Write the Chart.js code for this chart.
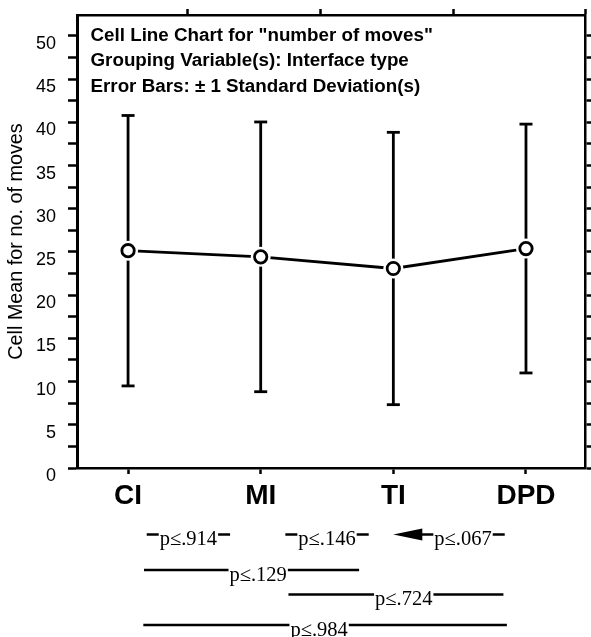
<!DOCTYPE html>
<html>
<head>
<meta charset="utf-8">
<script src="https://cdn.jsdelivr.net/npm/chart.js@4.4.0/dist/chart.umd.min.js"></script>
<style>
  html, body { margin: 0; padding: 0; background: #fff; }
  canvas { display: block; }
</style>
</head>
<body>
<canvas id="c" width="591" height="637"></canvas>
<script>
// ---------- data ----------
const categories = ['CI', 'MI', 'TI', 'DPD'];
const cellMeans = [25.15, 24.44, 23.09, 25.40];
const cellSDs = [15.65, 15.61, 15.76, 14.40];
const yTicks = [0, 2.5, 5, 7.5, 10, 12.5, 15, 17.5, 20, 22.5, 25, 27.5, 30, 32.5, 35, 37.5, 40, 42.5, 45, 47.5, 50];
const yTickLabels = ['0', '', '5', '', '10', '', '15', '', '20', '', '25', '', '30', '', '35', '', '40', '', '45', '', '50'];
const titleLines = [
  'Cell Line Chart for "number of moves"',
  'Grouping Variable(s): Interface type',
  'Error Bars: \u00B1 1 Standard Deviation(s)'
];
const yAxisTitle = 'Cell Mean for no. of moves';
const comparisonPairs = [[0, 1], [1, 2], [2, 3], [0, 2], [1, 3], [0, 3]];
const comparisonLabels = ['p\u2264.914', 'p\u2264.146', 'p\u2264.067', 'p\u2264.129', 'p\u2264.724', 'p\u2264.984'];
const comparisonArrow = [false, false, true, false, false, false];

// ---------- layout (not data) ----------
const X_MIN = -0.385, X_MAX = 3.445, Y_MAX = 52.43;
const topTicks = [0.45, 1.45, 2.45, X_MAX];
const LAYOUT = {
  row: [0, 0, 0, 1, 2, 3],
  rowLineY: [66.5, 102, 126.5, 157],   // px below the plot bottom
  compactShift: [-0.045, 0, 0, 0, 0, 0],
  inset: [[0, 0], [0, 0], [0, 0], [0.12, -0.258], [0.209, -0.17], [0.115, -0.144]],
  textShift: [0, 0, 0, 0.05, 0.059, -0.045]
};
const SANS = '"Liberation Sans", Arial, Helvetica, sans-serif';
const SERIF = '"Liberation Serif", "Times New Roman", Times, serif';

const pts = categories.map((c, i) => ({ x: i, y: cellMeans[i] }));

const datasets = [];
datasets.push({
  data: pts, xAxisID: 'x', yAxisID: 'y',
  borderColor: '#000', borderWidth: 2.8, pointRadius: 0, fill: false, tension: 0, order: 3
});
categories.forEach((c, i) => {
  datasets.push({
    data: [{ x: i, y: cellMeans[i] - cellSDs[i] }, { x: i, y: cellMeans[i] + cellSDs[i] }],
    xAxisID: 'x', yAxisID: 'y',
    borderColor: '#000', borderWidth: 2.8, fill: false,
    pointStyle: 'line', pointRadius: 6.5, pointBorderWidth: 2.8, pointBorderColor: '#000',
    order: 3
  });
});
datasets.push({
  data: pts, xAxisID: 'x', yAxisID: 'y', showLine: false,
  pointRadius: 10, pointBackgroundColor: '#fff', pointBorderWidth: 0, pointBorderColor: '#fff', order: 2
});
datasets.push({
  data: pts, xAxisID: 'x', yAxisID: 'y', showLine: false,
  pointRadius: 6.2, pointBackgroundColor: '#fff', pointBorderColor: '#000', pointBorderWidth: 2.8, order: 1
});

const gridTicks = (len) => ({ display: true, drawOnChartArea: false, drawTicks: true, tickLength: len, tickWidth: 2.5, tickColor: '#000', color: '#000' });
const fixBox = (w, h) => s => {
  if (w !== null) s.width = w;
  if (h !== null) s.height = h;
  s.paddingTop = 0; s.paddingBottom = 0; s.paddingLeft = 0; s.paddingRight = 0;
};

const overlayPlugin = {
  id: 'overlay',
  afterDraw(chart) {
    const ctx = chart.ctx;
    const area = chart.chartArea;
    const xs = chart.scales.x;
    ctx.save();
    // in-plot title
    ctx.fillStyle = '#000';
    ctx.font = 'bold 18.8px ' + SANS;
    ctx.textAlign = 'left';
    ctx.textBaseline = 'alphabetic';
    titleLines.forEach((t, k) => ctx.fillText(t, area.left + 13.5, area.top + 26 + k * 25.3));

    // comparison annotations
    const pix = v => xs.getPixelForValue(v);
    const step = pix(1) - pix(0);
    ctx.font = '20.5px ' + SERIF;
    ctx.strokeStyle = '#000';
    ctx.lineWidth = 2.5;
    const seg = (a, b, y) => { ctx.beginPath(); ctx.moveTo(a, y); ctx.lineTo(b, y); ctx.stroke(); };
    comparisonPairs.forEach(([i, j], k) => {
      const label = comparisonLabels[k];
      const ly = area.bottom + LAYOUT.rowLineY[LAYOUT.row[k]];
      const by = ly + 10.5;
      const tw = ctx.measureText(label).width;
      if (comparisonArrow[k]) {
        const tip = pix(i);
        ctx.beginPath();
        ctx.moveTo(tip, ly);
        ctx.lineTo(tip + 29, ly - 6);
        ctx.lineTo(tip + 29, ly + 6);
        ctx.closePath();
        ctx.fill();
        seg(tip + 28, tip + 40, ly);
        ctx.fillText(label, tip + 41, by);
        seg(tip + 42 + tw, tip + 54 + tw, ly);
      } else if (j - i === 1) {
        const c = (pix(i) + pix(j)) / 2 + LAYOUT.compactShift[k] * step;
        const total = 12 + 1 + tw + 1 + 12;
        const x0 = c - total / 2;
        seg(x0, x0 + 12, ly);
        ctx.fillText(label, x0 + 13, by);
        seg(x0 + 14 + tw, x0 + total, ly);
      } else {
        const a = pix(i) + LAYOUT.inset[k][0] * step;
        const b = pix(j) + LAYOUT.inset[k][1] * step;
        const tc = (a + b) / 2 + LAYOUT.textShift[k] * step;
        const t0 = tc - tw / 2;
        seg(a, t0 - 1, ly);
        ctx.fillText(label, t0, by);
        seg(t0 + tw + 1, b, ly);
      }
    });
    ctx.restore();
  }
};

new Chart(document.getElementById('c'), {
  type: 'line',
  data: { datasets },
  options: {
    responsive: false,
    animation: false,
    events: [],
    layout: { padding: 0, autoPadding: false },
    plugins: { legend: { display: false }, tooltip: { enabled: false }, title: { display: false } },
    scales: {
      x: {
        type: 'linear', position: 'bottom', min: X_MIN, max: X_MAX,
        afterBuildTicks: s => { s.ticks = categories.map((c, i) => ({ value: i })); },
        afterFit: fixBox(null, 169),
        ticks: {
          callback: v => categories[Math.round(v)] ?? '',
          font: { family: SANS, size: 28, weight: 'bold' }, color: '#000',
          padding: 5, maxRotation: 0, autoSkip: false
        },
        grid: gridTicks(6),
        border: { display: true, color: '#000', width: 2.5 }
      },
      x2: {
        type: 'linear', position: 'top', min: X_MIN, max: X_MAX,
        afterBuildTicks: s => { s.ticks = topTicks.map(v => ({ value: v })); },
        afterFit: fixBox(null, 15),
        ticks: { display: false },
        grid: gridTicks(6),
        border: { display: true, color: '#000', width: 2.5 }
      },
      y: {
        type: 'linear', position: 'left', min: 0, max: Y_MAX,
        afterBuildTicks: s => { s.ticks = yTicks.map(v => ({ value: v })); },
        afterFit: fixBox(77, null),
        ticks: {
          callback: (v, idx) => yTickLabels[idx] ?? '',
          font: { family: SANS, size: 18 }, color: '#000',
          padding: 12, labelOffset: 8, autoSkip: false
        },
        grid: gridTicks(9),
        border: { display: true, color: '#000', width: 3 },
        title: {
          display: true, text: yAxisTitle, color: '#000',
          font: { family: SANS, size: 19.8 }, padding: { top: 5, bottom: 4 }
        }
      },
      y2: {
        type: 'linear', position: 'right', min: 0, max: Y_MAX,
        afterBuildTicks: s => { s.ticks = yTicks.map(v => ({ value: v })); },
        afterFit: fixBox(6, null),
        ticks: { display: false },
        grid: gridTicks(6),
        border: { display: true, color: '#000', width: 2.5 }
      }
    }
  },
  plugins: [overlayPlugin]
});
</script>
</body>
</html>
